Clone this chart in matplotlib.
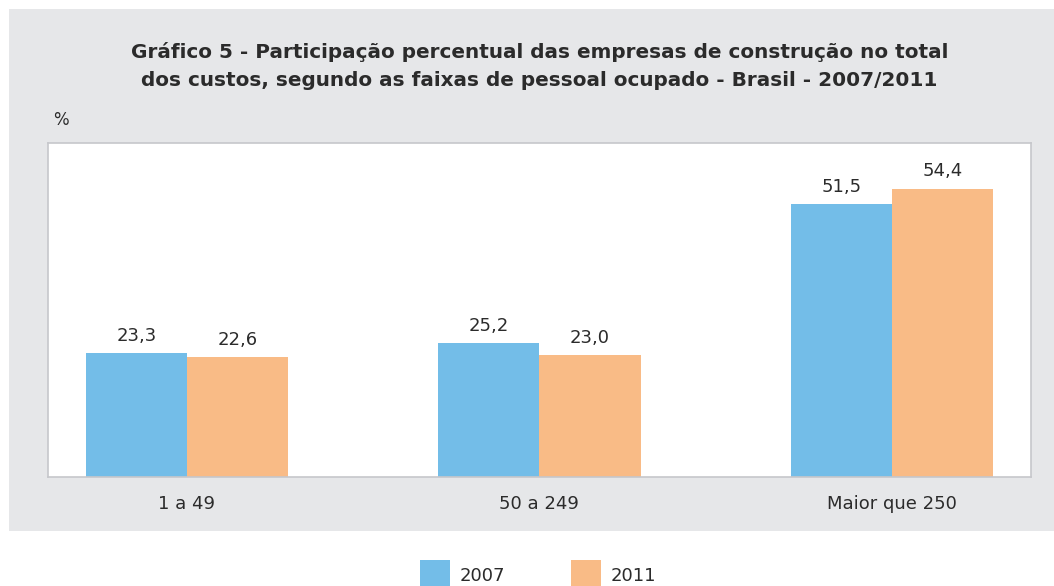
import matplotlib.pyplot as plt
import numpy as np
from matplotlib.patches import Rectangle

categorias = ['1 a 49', '50 a 249', 'Maior que 250']
valores2007 = [23.3, 25.2, 51.5]
valores2011 = [22.6, 23.0, 54.4]
anos = ['2007', '2011']

azul = '#73bde8'
laranja = '#f9bb86'
cinza = '#e6e7e9'
texto = '#2b2b2b'

plt.rcParams['font.family'] = ['DejaVu Sans']

fig = plt.figure(figsize=(10.54, 5.86), dpi=100)

# painel cinza (atrás dos eixos)
fig.patches.append(Rectangle((0.0085, 0.094), 1.0, 0.891, transform=fig.transFigure,
                             facecolor=cinza, edgecolor='none', zorder=-1))

ax = fig.add_axes([0.0455, 0.186, 0.9325, 0.570])
ax.set_facecolor('white')

x = np.arange(len(categorias))
w = 0.287
b1 = ax.bar(x - w / 2, valores2007, w, color=azul, label=anos[0])
b2 = ax.bar(x + w / 2, valores2011, w, color=laranja, label=anos[1])

for barras, vals in [(b1, valores2007), (b2, valores2011)]:
    for r, v in zip(barras, vals):
        ax.annotate(f'{v:.1f}'.replace('.', ','), (r.get_x() + r.get_width() / 2, v),
                    xytext=(0, 6), textcoords='offset points', ha='center', va='bottom',
                    fontsize=13, color=texto)

ax.set_xlim(-0.394, 2.394)
ax.set_ylim(0, 63)
ax.set_xticks(x)
ax.set_xticklabels(categorias, fontsize=13, color=texto)
ax.tick_params(axis='x', length=0, pad=13)
ax.set_yticks([])
for s in ax.spines.values():
    s.set_color('#c6c7cb')
    s.set_linewidth(1.2)

fig.text(0.058, 1 - 120 / 586, '%', fontsize=12, color=texto, ha='center', va='center')
fig.text(0.512, 1 - 52 / 586, 'Gráfico 5 - Participação percentual das empresas de construção no total',
         fontsize=14.4, fontweight='bold', color=texto, ha='center', va='center')
fig.text(0.512, 1 - 80 / 586, 'dos custos, segundo as faixas de pessoal ocupado - Brasil - 2007/2011',
         fontsize=14.4, fontweight='bold', color=texto, ha='center', va='center')

# legenda
for cor, nome, x0 in [(azul, anos[0], 420), (laranja, anos[1], 571)]:
    fig.patches.append(Rectangle((x0 / 1054, 0.0), 30 / 1054, 26 / 586, transform=fig.transFigure,
                                 facecolor=cor, edgecolor='none'))
    fig.text((x0 + 40) / 1054, 1 - 576 / 586, nome, fontsize=13, color=texto, va='center', ha='left')

fig.savefig('out.png', dpi=100)
